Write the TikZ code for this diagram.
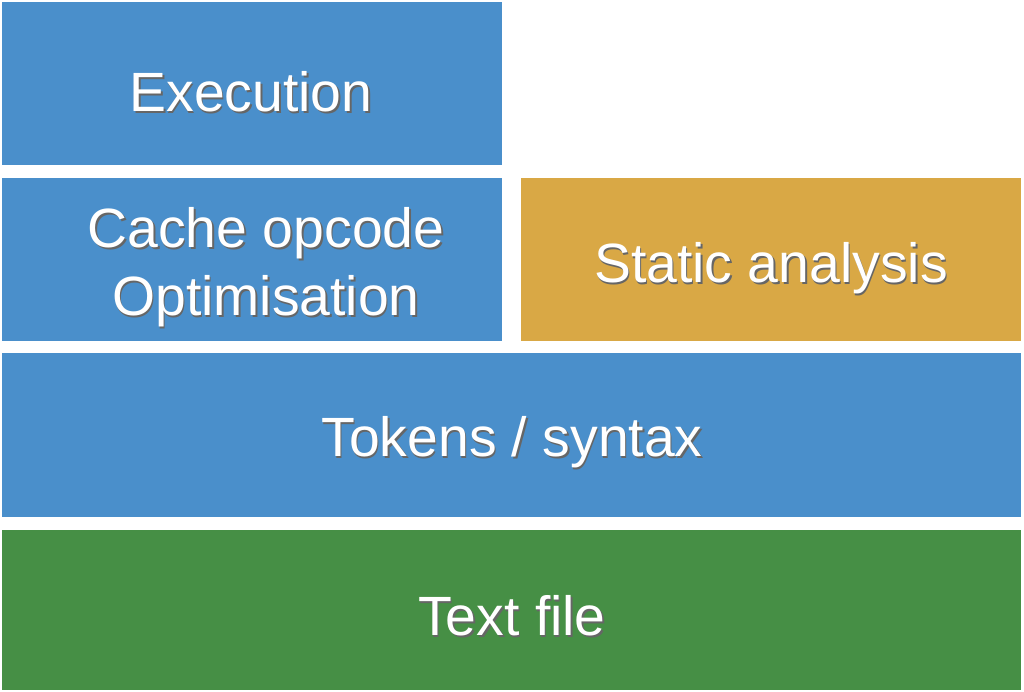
\documentclass[tikz,border=0pt]{standalone}
\usepackage{fontspec}
\setmainfont{Liberation Sans}
\definecolor{bblue}{HTML}{4A8FCB}
\definecolor{bgold}{HTML}{D9A845}
\definecolor{bgreen}{HTML}{468F45}
\newcommand{\shlabel}[4]{%
  \node[lbl,text=black!60] at (#1+1.5,#2+2) {#3};
  \node[lbl] (#4) at (#1,#2) {#3};}
\begin{document}
\begin{tikzpicture}[x=0.75pt,y=-0.75pt,
  lbl/.style={text=white,font=\fontsize{41.5}{51}\selectfont,align=center}]
\useasboundingbox (0,0) rectangle (1024,692);
\fill[bblue] (2,2) rectangle (502,165);
\fill[bblue] (2,178) rectangle (502,341);
\fill[bgold] (521,178) rectangle (1021,341);
\fill[bblue] (2,353) rectangle (1021,517);
\fill[bgreen] (2,530) rectangle (1021,690);
\shlabel{251}{92}{Execution}{a}
\shlabel{266}{267}{Cache opcode\\Optimisation}{b}
\shlabel{771}{268}{Static analysis}{c}
\shlabel{512}{442}{Tokens / syntax}{d}
\shlabel{512}{616}{Text file}{e}
\end{tikzpicture}
\end{document}
